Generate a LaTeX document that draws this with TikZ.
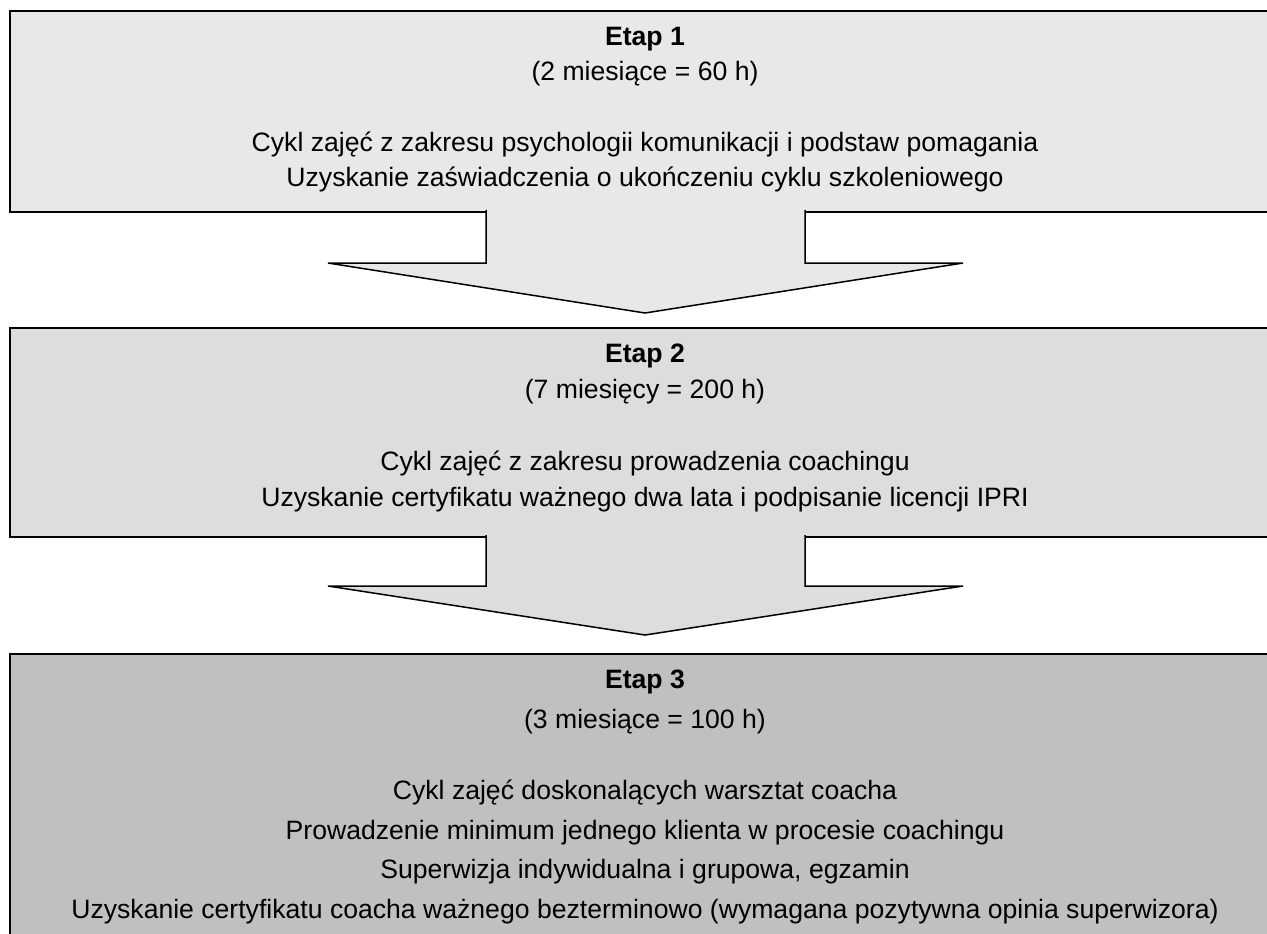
\documentclass[tikz,border=0pt]{standalone}
\usepackage{fontspec}
\setmainfont{Liberation Sans}
\usetikzlibrary{positioning}

\definecolor{etapA}{HTML}{E8E8E8}
\definecolor{etapB}{HTML}{DDDDDD}
\definecolor{etapC}{HTML}{C0C0C0}

\tikzset{
  ramka/.style={draw=black, line width=1pt},
  strzalka/.style={draw=black, line width=0.75pt, line join=miter},
  opis/.style={align=center, inner sep=0pt, anchor=north, font=\fontsize{13.3pt}{#1}\selectfont},
  opis/.default=17.5pt,
}

\begin{document}
\begin{tikzpicture}[x=0.5pt, y=-0.5pt]
  %%%%% START %%%%%
  \useasboundingbox (0,0) rectangle (1267,933);
  \clip (0,0) rectangle (1267,933);

  % etap 1
  \draw[ramka, fill=etapA] (10,11) rectangle (1290,212);
  \node[opis=17.5pt] (etap1) at (645,27) {\textbf{Etap 1}\\(2 miesiące = 60 h)\\[18pt]Cykl zajęć z zakresu psychologii komunikacji i podstaw pomagania\\Uzyskanie zaświadczenia o ukończeniu cyklu szkoleniowego};
  \draw[strzalka, fill=etapA] (486,210) -- (486,263) -- (328,263) -- (645,313) -- (963,263) -- (805,263) -- (805,210);

  % etap 2
  \draw[ramka, fill=etapB] (10,328) rectangle (1290,537);
  \node[opis=18pt] (etap2) at (645,344) {\textbf{Etap 2}\\(7 miesięcy = 200 h)\\[18pt]Cykl zajęć z zakresu prowadzenia coachingu\\Uzyskanie certyfikatu ważnego dwa lata i podpisanie licencji IPRI};
  \draw[strzalka, fill=etapB] (486,535) -- (486,586) -- (328,586) -- (645,635) -- (963,586) -- (805,586) -- (805,535);

  % etap 3
  \draw[ramka, fill=etapC] (10,654) rectangle (1290,960);
  \node[opis=19.75pt] (etap3) at (645,670) {\textbf{Etap 3}\\(3 miesiące = 100 h)\\[16pt]Cykl zajęć doskonalących warsztat coacha\\Prowadzenie minimum jednego klienta w procesie coachingu\\Superwizja indywidualna i grupowa, egzamin\\Uzyskanie certyfikatu coacha ważnego bezterminowo (wymagana pozytywna opinia superwizora)};
  %%%%% END %%%%%
\end{tikzpicture}
\end{document}
